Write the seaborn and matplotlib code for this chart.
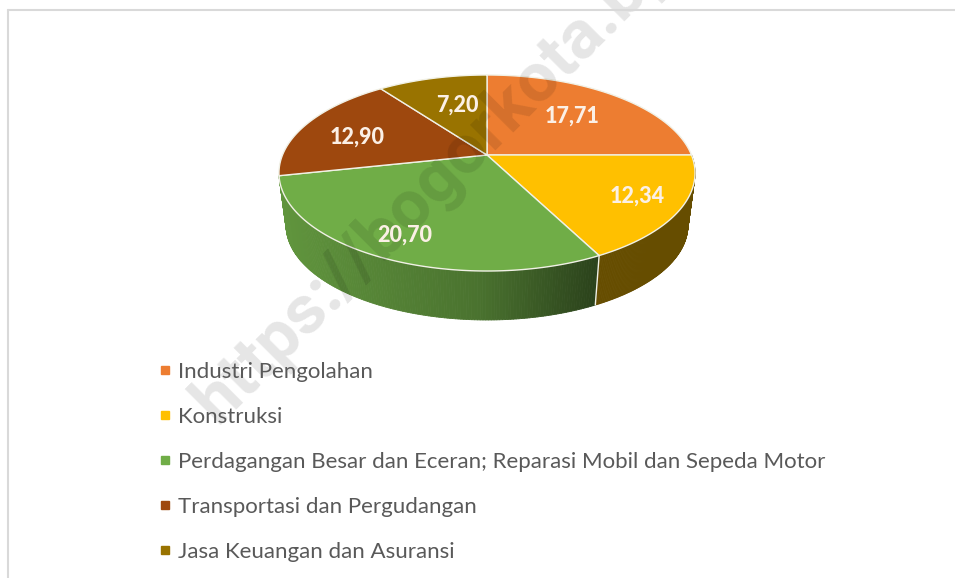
import numpy as np
import matplotlib
matplotlib.use("Agg")
import matplotlib.pyplot as plt
import seaborn as sns
from matplotlib.collections import PolyCollection
from matplotlib.lines import Line2D
from matplotlib.path import Path
from matplotlib.transforms import Transform

categories = ["Industri Pengolahan", "Konstruksi",
              "Perdagangan Besar dan Eceran; Reparasi Mobil dan Sepeda Motor",
              "Transportasi dan Pergudangan", "Jasa Keuangan dan Asuransi"]
values = [17.71, 12.34, 20.70, 12.90, 7.20]
value_labels = ["17,71", "12,34", "20,70", "12,90", "7,20"]
colors = ["#ED7D31", "#FFC000", "#70AD47", "#9E480E", "#997300"]
label_xy = [(572, 116), (637, 196), (405, 235), (357, 137), (457, 105)]

sns.set_theme(style="white")
plt.rcParams["font.family"] = ["Lato", "DejaVu Sans"]
palette = sns.color_palette(colors)


class Perspective(Transform):
    """Maps the unit-circle pie on to the tilted disc, in pixel coordinates."""
    input_dims = 2
    output_dims = 2

    def __init__(self, cx, cy, bx, ay, k):
        super().__init__()
        self.p = (cx, cy, bx, ay, k)

    def transform_non_affine(self, xy):
        cx, cy, bx, ay, k = self.p
        xy = np.asarray(xy, float)
        d = 1 + k * xy[:, 1]
        return np.column_stack([cx + bx * xy[:, 0] / d, cy - ay * xy[:, 1] / d])

    def transform_path_non_affine(self, path):
        pts = []
        for bez, code in path.iter_bezier():
            if code == Path.MOVETO:
                pts.append(bez.control_points)
            else:
                pts.append(bez(np.linspace(0, 1, 30)[1:]))
        pts = np.vstack(pts)
        return Path(self.transform_non_affine(pts), closed=False)


fig = plt.figure(figsize=(9.55, 5.78), dpi=100, facecolor="white")
ax = fig.add_axes([0, 0, 1, 1])

wedges, _ = ax.pie(values, colors=palette, startangle=90, counterclock=False,
                   wedgeprops=dict(edgecolor="#f1f1e6", linewidth=1.0))
ax.set_aspect("auto")
ax.set_xlim(0, 955)
ax.set_ylim(578, 0)
ax.axis("off")

top = Perspective(487, 155, 204.5, 94.7, 0.1837)
base = Perspective(487, 208, 197.5, 91.4, 0.1837)
for w in wedges:
    w.set_transform(top + ax.transData)
    w.set_zorder(3)

# side wall of the two slices that face the viewer
edges = np.cumsum([0] + values) / np.sum(values) * 2 * np.pi
polys, cols = [], []
for i in (1, 2):
    t = np.linspace(edges[i], edges[i + 1], 161)
    unit = np.column_stack([np.sin(t), np.cos(t)])
    upper = top.transform_non_affine(unit)
    lower = base.transform_non_affine(unit)
    for j in range(len(t) - 1):
        polys.append([upper[j], upper[j + 1], lower[j + 1], lower[j]])
        if i == 1:
            shade = 0.40
        else:
            shade = np.interp(upper[j][0], [280, 480, 600], [0.86, 0.66, 0.38])
        cols.append(tuple(np.array(palette[i]) * shade))
ax.add_collection(PolyCollection(polys, facecolors=cols, edgecolors=cols,
                                 linewidths=0.6, zorder=2))
seam = np.array([[np.sin(edges[2]), np.cos(edges[2])]])
ax.plot([top.transform_non_affine(seam)[0, 0], base.transform_non_affine(seam)[0, 0]],
        [top.transform_non_affine(seam)[0, 1], base.transform_non_affine(seam)[0, 1]],
        color="#f1f1e6", lw=1.0, zorder=2.5)

ax.text(218, 425, "https://bogorkota.bps.go.id", rotation=45, rotation_mode="anchor",
        ha="left", va="baseline", fontsize=50, fontweight="bold", family=["Roboto", "DejaVu Sans"],
        color="black", alpha=0.10, zorder=4, clip_on=True)

for (x, y), s in zip(label_xy, value_labels):
    ax.text(x, y, s, ha="center", va="center", color="#fbf0e6", fontsize=15.5,
            fontweight="black", zorder=5)

handles = [Line2D([], [], marker="s", ls="", color=c, ms=5.2) for c in palette]
ax.legend(handles, categories, loc="upper left", bbox_to_anchor=(152 / 955, 1 - 362 / 578),
          bbox_transform=fig.transFigure, frameon=False, fontsize=16, labelcolor="#595959",
          labelspacing=1.12, handletextpad=0.0, handlelength=1.17, borderpad=0, borderaxespad=0)

for xs, ys in (([7.5, 7.5], [578, 9.5]), ([7.5, 955], [9.5, 9.5])):
    ax.add_line(Line2D(xs, ys, color="#d9d9d9", lw=1.5, zorder=6))

fig.savefig("out.png", dpi=100, facecolor="white")
